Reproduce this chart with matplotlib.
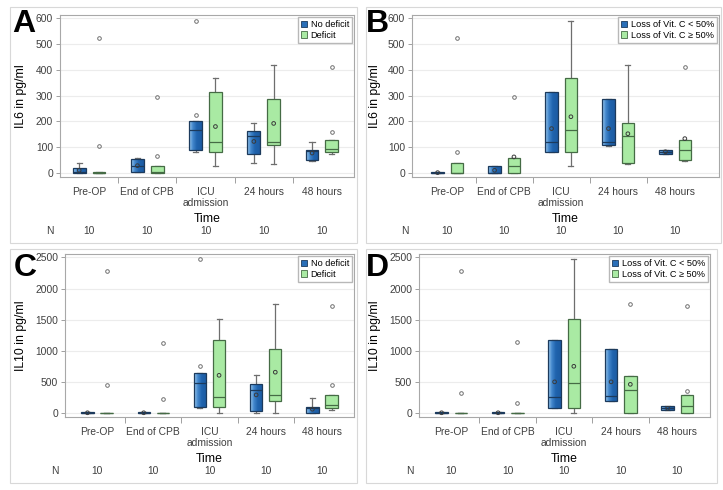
import matplotlib
matplotlib.use('Agg')
import matplotlib.pyplot as plt
import numpy as np
from matplotlib.colors import LinearSegmentedColormap
from matplotlib.patches import Patch, Rectangle

plt.rcParams['font.family'] = ['Liberation Sans', 'DejaVu Sans']

# ---------------- data ----------------
times = ['Pre-OP', 'End of CPB', 'ICU\nadmission', '24 hours', '48 hours']
n_counts = [10, 10, 10, 10, 10]

# Panel A: IL6, No deficit (blue) / Deficit (green)
a_blue_lo = [0, 2, 82, 37, 48]
a_blue_q1 = [0, 4, 87, 72, 50]
a_blue_med = [3, 27, 168, 142, 85]
a_blue_q3 = [18, 53, 200, 163, 87]
a_blue_hi = [38, 57, 202, 193, 118]
a_blue_mean = [10, 28, None, 122, 77]
a_blue_fliers = [[], [], [225, 590], [], []]
a_green_lo = [0, 0, 25, 35, 72]
a_green_q1 = [0, 0, 80, 107, 83]
a_green_med = [1, 2, 120, 118, 93]
a_green_q3 = [3, 28, 315, 285, 128]
a_green_hi = [3, 28, 368, 418, 128]
a_green_mean = [None, None, 180, 192, None]
a_green_fliers = [[105, 525], [65, 293], [], [], [157, 412]]

# Panel B: IL6, Loss of Vit. C < 50% (blue) / >= 50% (green)
b_blue_lo = [0, 0, 80, 105, 73]
b_blue_q1 = [0, 0, 80, 107, 73]
b_blue_med = [1, 1, 120, 120, 82]
b_blue_q3 = [3, 28, 315, 285, 90]
b_blue_hi = [3, 28, 315, 285, 90]
b_blue_mean = [1, 10, 172, 172, 82]
b_blue_fliers = [[], [], [], [], []]
b_green_lo = [0, 0, 25, 35, 48]
b_green_q1 = [0, 0, 82, 37, 49]
b_green_med = [1, 27, 168, 143, 88]
b_green_q3 = [37, 57, 368, 193, 128]
b_green_hi = [37, 57, 590, 418, 128]
b_green_mean = [None, 62, 218, 152, 133]
b_green_fliers = [[83, 525], [293], [], [], [412]]

# Panel C: IL10, No deficit (blue) / Deficit (green)
c_blue_lo = [0, 0, 75, 0, 0]
c_blue_q1 = [0, 0, 100, 25, 0]
c_blue_med = [0, 0, 480, 365, 80]
c_blue_q3 = [8, 8, 640, 460, 100]
c_blue_hi = [10, 10, 640, 605, 245]
c_blue_mean = [3, 3, None, 290, 60]
c_blue_fliers = [[], [], [750, 2470], [], []]
c_green_lo = [0, 0, 0, 0, 50]
c_green_q1 = [0, 0, 90, 190, 85]
c_green_med = [0, 0, 255, 285, 120]
c_green_q3 = [6, 6, 1165, 1030, 295]
c_green_hi = [6, 6, 1515, 1755, 295]
c_green_mean = [None, None, 605, 655, None]
c_green_fliers = [[455, 2280], [225, 1130], [], [], [450, 1720]]

# Panel D: IL10, Loss of Vit. C < 50% (blue) / >= 50% (green)
d_blue_lo = [0, 0, 85, 190, 50]
d_blue_q1 = [0, 0, 85, 190, 50]
d_blue_med = [0, 0, 255, 280, 80]
d_blue_q3 = [8, 8, 1165, 1025, 115]
d_blue_hi = [10, 10, 1165, 1025, 115]
d_blue_mean = [3, 3, 500, 500, 75]
d_blue_fliers = [[], [], [], [], []]
d_green_lo = [0, 0, 0, 0, 0]
d_green_q1 = [0, 0, 75, 0, 0]
d_green_med = [0, 0, 480, 365, 110]
d_green_q3 = [6, 6, 1510, 595, 295]
d_green_hi = [6, 6, 2470, 595, 295]
d_green_mean = [None, None, 750, 460, None]
d_green_fliers = [[325, 2280], [165, 1135], [], [1750], [350, 1725]]

legend_ab = ['No deficit', 'Deficit']
legend_cd = ['Loss of Vit. C < 50%', 'Loss of Vit. C \u2265 50%']

# ---------------- styling ----------------
W, H = 723, 490
fig = plt.figure(figsize=(W / 100, H / 100), dpi=100)
fig.patch.set_facecolor('white')

blue_cmap = LinearSegmentedColormap.from_list(
    'bl', [(0.0, '#9ccaef'), (0.3, '#4287cc'), (0.6, '#2064ae'), (1.0, '#1c5ba2')])
green_fill = '#a9eaa3'
blue_edge = '#1c3a5c'
green_edge = '#456b45'
whisk_col = '#6e6e6e'
TS = 7.4


def make_stats(lo, q1, med, q3, hi, fl):
    return [dict(whislo=lo[i], q1=q1[i], med=med[i], q3=q3[i], whishi=hi[i],
                 fliers=np.array(fl[i], dtype=float)) for i in range(len(lo))]


def draw_group(ax, stats, means, offset, kind):
    pos = np.arange(len(stats)) + offset
    width = 0.22
    edge = blue_edge if kind == 'blue' else green_edge
    res = ax.bxp(stats, positions=pos, widths=width, patch_artist=True,
                 showfliers=True, capwidths=0.09,
                 boxprops=dict(facecolor='none' if kind == 'blue' else green_fill,
                               edgecolor=edge, linewidth=0.9),
                 medianprops=dict(color=edge, linewidth=0.9),
                 whiskerprops=dict(color=whisk_col, linewidth=0.9),
                 capprops=dict(color=whisk_col, linewidth=0.9),
                 flierprops=dict(marker='o', markersize=2.6, markerfacecolor='none',
                                 markeredgecolor='#707070', markeredgewidth=0.7))
    for b in res['boxes']:
        b.set_zorder(3)
    for m in res['medians']:
        m.set_zorder(3.5)
    if kind == 'blue':
        grad = np.linspace(0, 1, 64)[None, :]
        for p, st, b in zip(pos, stats, res['boxes']):
            y0, y1 = st['q1'], st['q3']
            im = ax.imshow(grad, cmap=blue_cmap, aspect='auto',
                           extent=(p - width / 2, p + width / 2, y0, y1),
                           zorder=2.5, interpolation='bilinear')
            im.set_clip_path(b)
    mx = [p for p, m in zip(pos, means) if m is not None]
    my = [m for m in means if m is not None]
    ax.scatter(mx, my, s=7, facecolors='none', edgecolors='#3a3a3a',
               linewidths=0.7, zorder=4)


panels = [
    dict(rect=(60, 15, 354, 177), letter='A', letter_xy=(12, 9), ylab='IL6 in pg/ml',
         xlim=(-0.5, 4.55), ylim=(-16, 613), yt=[0, 100, 200, 300, 400, 500, 600],
         blue=(a_blue_lo, a_blue_q1, a_blue_med, a_blue_q3, a_blue_hi, a_blue_fliers, a_blue_mean),
         green=(a_green_lo, a_green_q1, a_green_med, a_green_q3, a_green_hi, a_green_fliers, a_green_mean),
         leg=legend_ab, ylab_dx=33, n_dx=10),
    dict(rect=(412, 15, 719, 177), letter='B', letter_xy=(366, 9), ylab='IL6 in pg/ml',
         xlim=(-0.62, 4.77), ylim=(-16, 613), yt=[0, 100, 200, 300, 400, 500, 600],
         blue=(b_blue_lo, b_blue_q1, b_blue_med, b_blue_q3, b_blue_hi, b_blue_fliers, b_blue_mean),
         green=(b_green_lo, b_green_q1, b_green_med, b_green_q3, b_green_hi, b_green_fliers, b_green_mean),
         leg=legend_cd, ylab_dx=31, n_dx=7),
    dict(rect=(65, 254, 354, 417), letter='C', letter_xy=(14, 253), ylab='IL10 in pg/ml',
         xlim=(-0.57, 4.57), ylim=(-65, 2555), yt=[0, 500, 1000, 1500, 2000, 2500],
         blue=(c_blue_lo, c_blue_q1, c_blue_med, c_blue_q3, c_blue_hi, c_blue_fliers, c_blue_mean),
         green=(c_green_lo, c_green_q1, c_green_med, c_green_q3, c_green_hi, c_green_fliers, c_green_mean),
         leg=legend_ab, ylab_dx=38, n_dx=10),
    dict(rect=(419, 254, 710, 417), letter='D', letter_xy=(366, 253), ylab='IL10 in pg/ml',
         xlim=(-0.57, 4.58), ylim=(-65, 2555), yt=[0, 500, 1000, 1500, 2000, 2500],
         blue=(d_blue_lo, d_blue_q1, d_blue_med, d_blue_q3, d_blue_hi, d_blue_fliers, d_blue_mean),
         green=(d_green_lo, d_green_q1, d_green_med, d_green_q3, d_green_hi, d_green_fliers, d_green_mean),
         leg=legend_cd, ylab_dx=38, n_dx=9),
]

frames = [(10, 7, 357, 243), (366, 7, 721, 243), (10, 249, 357, 483), (366, 249, 717, 483)]
for (x0, y0, x1, y1) in frames:
    fig.patches.append(Rectangle((x0 / W, 1 - y1 / H), (x1 - x0) / W, (y1 - y0) / H,
                                 transform=fig.transFigure, fill=False,
                                 edgecolor='#d8d8d8', linewidth=0.8))

for pn in panels:
    x0, y0, x1, y1 = pn['rect']
    ax = fig.add_axes([x0 / W, 1 - y1 / H, (x1 - x0) / W, (y1 - y0) / H])
    bl = pn['blue']
    gr = pn['green']
    draw_group(ax, make_stats(*bl[:6]), bl[6], -0.17, 'blue')
    draw_group(ax, make_stats(*gr[:6]), gr[6], 0.17, 'green')
    ax.set_xlim(*pn['xlim'])
    ax.set_ylim(*pn['ylim'])
    ax.set_yticks(pn['yt'])
    ax.set_yticklabels([str(v) for v in pn['yt']])
    ax.set_xticks(np.arange(len(times)))
    ax.set_xticklabels(times, fontsize=TS, color='#404040', linespacing=1.15)
    ax.set_xticks(np.arange(len(times) - 1) + 0.5, minor=True)
    ax.tick_params(axis='x', which='major', length=0, pad=7)
    ax.tick_params(axis='x', which='minor', length=4, color='#a0a0a0', width=0.7)
    ax.tick_params(axis='y', length=3, color='#a0a0a0', width=0.7, labelsize=TS,
                   labelcolor='#404040', pad=2)
    ax.yaxis.grid(True, color='#ececec', linewidth=0.8)
    ax.set_axisbelow(True)
    for sp in ax.spines.values():
        sp.set_color('#a8a8a8')
        sp.set_linewidth(0.8)
    ax_w = x1 - x0
    ax_h = y1 - y0
    ax.set_ylabel(pn['ylab'], fontsize=8.8, color='#000000')
    ax.yaxis.set_label_coords(-pn['ylab_dx'] / ax_w, 0.5)
    ax.set_xlabel('Time', fontsize=8.8, color='#000000')
    ax.xaxis.set_label_coords(0.5, -42 / ax_h)
    ax.xaxis.label.set_va('center')
    ntrans = ax.get_xaxis_transform()
    for i, n in enumerate(n_counts):
        ax.text(i, -54 / ax_h, str(n), transform=ntrans, ha='center', va='center',
                fontsize=TS, color='#404040')
    ax.text(-pn['n_dx'] / ax_w, -54 / ax_h, 'N', transform=ax.transAxes,
            ha='center', va='center', fontsize=TS, color='#404040')
    handles = [Patch(facecolor='#2a6fb8', edgecolor=blue_edge, linewidth=0.6),
               Patch(facecolor=green_fill, edgecolor=green_edge, linewidth=0.6)]
    ax.legend(handles, pn['leg'], loc='upper right', fontsize=6.6, frameon=True,
              fancybox=False, edgecolor='#b8b8b8', framealpha=1,
              handlelength=0.7, handleheight=0.7, handletextpad=0.35,
              borderpad=0.3, labelspacing=0.2, borderaxespad=0.25)
    lx, ly = pn['letter_xy']
    fig.text(lx / W, 1 - ly / H, pn['letter'], fontsize=23, fontweight='bold',
             ha='left', va='top', color='black')

fig.savefig('out.png', dpi=100, facecolor='white')
